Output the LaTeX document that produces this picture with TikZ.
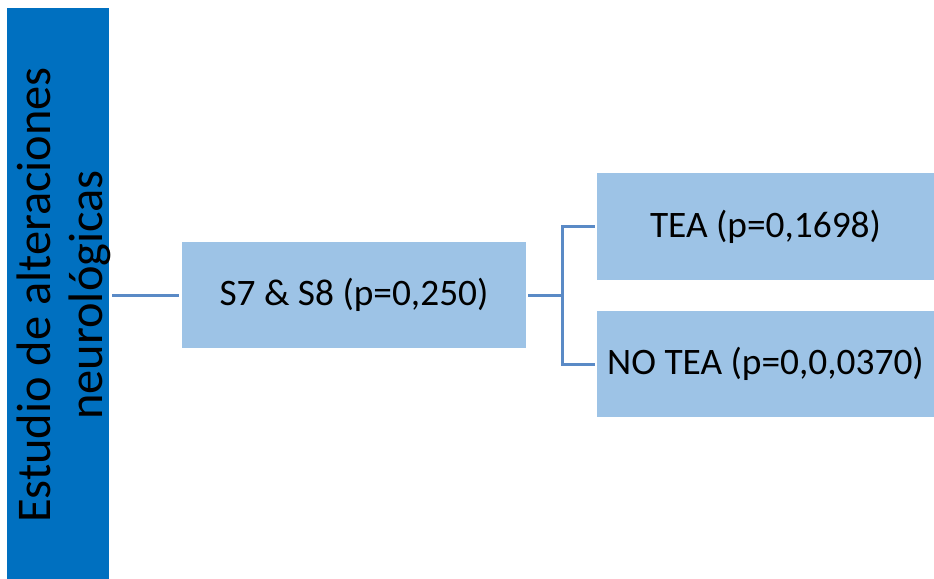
\documentclass[tikz,border=0pt]{standalone}
\usepackage{fontspec}
\setmainfont{Carlito}
\definecolor{barblue}{HTML}{0070C0}
\definecolor{boxblue}{HTML}{9DC3E6}
\definecolor{linkblue}{HTML}{5A8AC6}
\begin{document}
\begin{tikzpicture}[x=1bp,y=-1bp,
  box/.style={fill=boxblue, inner sep=0pt, font=\fontsize{37.5}{44}\selectfont},
  link/.style={draw=linkblue, line width=3bp},
  bartext/.style={rotate=90, anchor=base, inner sep=0pt, font=\fontsize{48.6}{52}\selectfont}]
\useasboundingbox (0,0) rectangle (934,579);
% vertical title bar
\node[fill=barblue, inner sep=0pt, minimum width=102bp, minimum height=571bp, anchor=north west] (bar) at (7,8) {};
\node[bartext] (title1) at (50,295) {Estudio de alteraciones};
\node[bartext] (title2) at (102,295) {neurológicas};
% boxes
\node[box, minimum width=344bp, minimum height=106bp] (mid) at (354,295) {S7 \& S8 (p=0,250)};
\node[box, minimum width=337bp, minimum height=107bp] (tea) at (765.5,226.5) {TEA (p=0,1698)};
\node[box, minimum width=337bp, minimum height=106bp] (notea) at (765.5,364) {NO TEA (p=0,0,0370)};
% connectors
\draw[link, shorten <=3bp, shorten >=3bp] (bar.east |- mid.west) -- (mid.west);
\draw[link, shorten <=2bp] (mid.east) -- ++(36,0) coordinate (fork);
\draw[link, shorten >=2bp] (fork) |- (tea.west);
\draw[link, shorten >=2bp] (fork) |- (notea.west);
\end{tikzpicture}
\end{document}
